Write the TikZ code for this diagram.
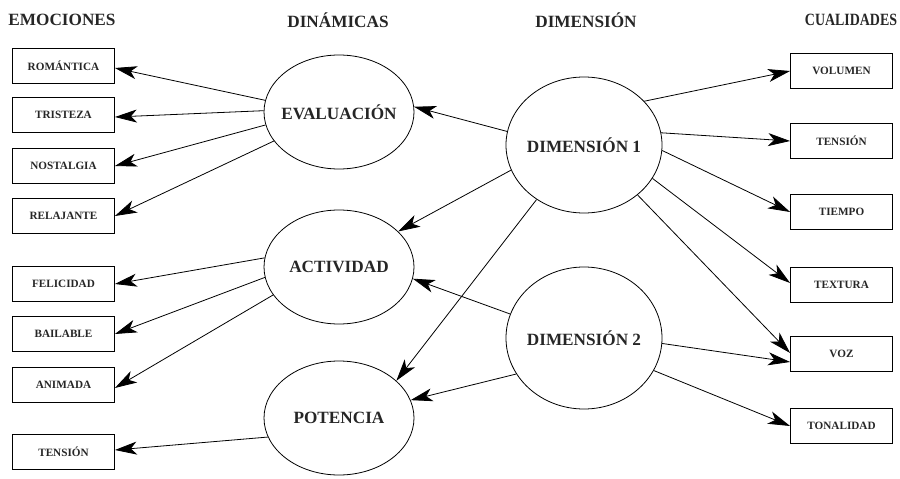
\documentclass[tikz,border=0pt]{standalone}
\usepackage{fontspec}
\setmainfont{Liberation Serif}
\usetikzlibrary{arrows.meta,shapes.geometric}
\begin{document}
\begin{tikzpicture}[x=1pt,y=-1pt,
 box/.style={draw, line width=0.8pt, minimum width=102pt, minimum height=35pt, inner sep=0pt, font=\fontsize{11.2}{13}\selectfont\bfseries, text=black!85},
 lbl/.style={inner sep=0pt, font=\fontsize{17.2}{20}\selectfont\bfseries, text=black!85},
 dyn/.style={draw, ellipse, line width=0.8pt, minimum width=150pt, minimum height=114pt, inner sep=0pt},
 dimn/.style={dyn, minimum width=156pt, minimum height=136pt},
 hdr/.style={font=\fontsize{17.2}{20}\selectfont\bfseries, text=black!85},
 arr/.style={-{Stealth[length=22pt,width=13pt,inset=6pt]}, line width=0.8pt}]
\useasboundingbox (0,0) rectangle (900,479);
% headers
\node[hdr] (h1) at (62,20) {EMOCIONES};
\node[hdr] (h2) at (338,20) {DINÁMICAS};
\node[hdr] (h3) at (586,20) {DIMENSIÓN};
\node[hdr] (h4) at (851,20) {\scalebox{0.81}[1]{CUALIDADES}};
% left boxes
\node[box] (rom) at (63.5,66) {ROMÁNTICA};
\node[box] (tri) at (63.5,115) {TRISTEZA};
\node[box] (nos) at (63.5,166) {NOSTALGIA};
\node[box] (rel) at (63.5,216) {RELAJANTE};
\node[box] (fel) at (63.5,284) {FELICIDAD};
\node[box] (bai) at (63.5,334) {BAILABLE};
\node[box] (ani) at (63.5,385) {ANIMADA};
\node[box] (ten) at (63.5,452) {TENSIÓN};
% right boxes
\node[box] (vol) at (841.5,71) {VOLUMEN};
\node[box] (tns) at (841.5,141) {TENSIÓN};
\node[box] (tie) at (841.5,212) {TIEMPO};
\node[box] (tex) at (841.5,285) {TEXTURA};
\node[box] (voz) at (841.5,354) {VOZ};
\node[box] (ton) at (841.5,426) {TONALIDAD};
% ellipses
\node[dyn, label={[lbl]center:EVALUACIÓN}] (eva) at (339,112) {};
\node[dyn, label={[lbl]center:ACTIVIDAD}] (act) at (339,267) {};
\node[dyn, label={[lbl]center:POTENCIA}] (pot) at (339,418) {};
\node[dimn, label={[lbl]center:DIMENSIÓN 1}] (d1) at (584,145) {};
\node[dimn, minimum height=142pt, label={[lbl]center:DIMENSIÓN 2}] (d2) at (584,338) {};
% arrows to emotions
\draw[arr] (eva.171) -- ([yshift=-2pt]rom.east);
\draw[arr] (eva.179) -- ([yshift=-2pt]tri.east);
\draw[arr] (eva.190) -- (nos.east);
\draw[arr] (eva.204) -- (rel.east);
\draw[arr] (act.173) -- (fel.east);
\draw[arr] (act.188) -- (bai.east);
\draw[arr] (act.203) -- ([yshift=-3pt]ani.east);
\draw[arr] (pot.195) -- ([yshift=2pt]ten.east);
% dimension 1
\draw[arr] (d1.170) -- (eva.4);
\draw[arr] (d1.199) -- (act.31);
\draw[arr] (d1.229) -- (pot.33);
\draw[arr] (d1.36) -- (vol.west);
\draw[arr] (d1.9) -- (tns.west);
\draw[arr] (d1.-4) -- (tie.west);
\draw[arr] (d1.-26) -- ([yshift=2pt]tex.west);
\draw[arr] (d1.-43) -- ([yshift=1pt]voz.west);
% dimension 2
\draw[arr] (d2.162) -- (act.-9);
\draw[arr] (d2.208) -- (pot.14);
\draw[arr] (d2.-4) -- ([yshift=-8pt]voz.west);
\draw[arr] (d2.-25) -- (ton.west);
\end{tikzpicture}
\end{document}
